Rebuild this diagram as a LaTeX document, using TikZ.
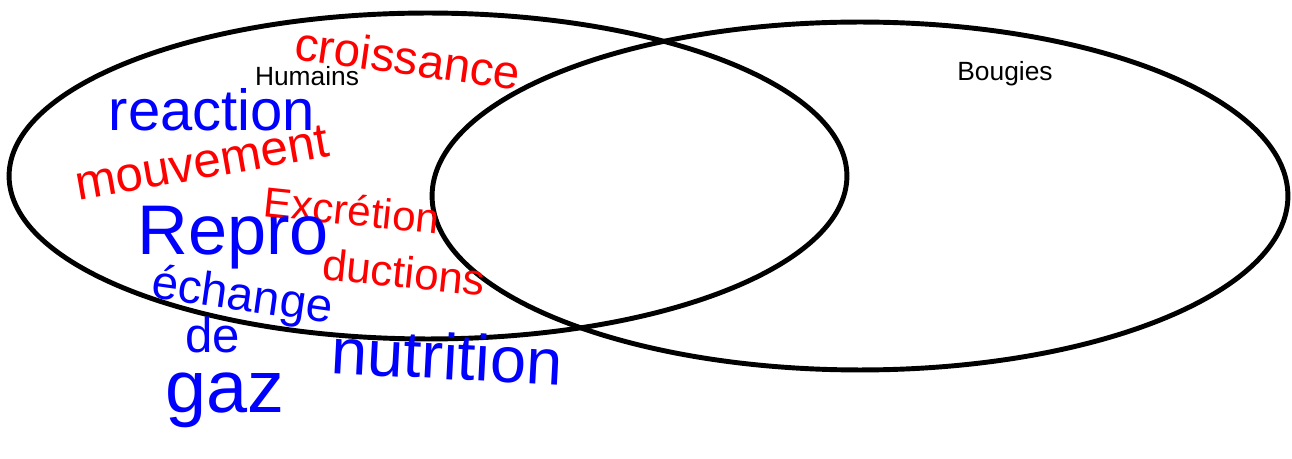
\documentclass[tikz,border=0pt]{standalone}
\usepackage{fontspec}
\setmainfont{Liberation Sans}
\usetikzlibrary{positioning}

\begin{document}
\begin{tikzpicture}[x=0.02cm, y=-0.02cm,
    ring/.style={black, line width=2.8pt},
    label/.style={font=\fontsize{15pt}{15pt}\selectfont},
    hred/.style={red, inner sep=0pt, font=\fontsize{#1}{#1}\selectfont},
    hblue/.style={blue, inner sep=0pt, font=\fontsize{#1}{#1}\selectfont}]
    \useasboundingbox (0,0) rectangle (1292,459);
    %--- ENSEMBLES ---
    \draw[ring] (428,176) ellipse [x radius=8.38cm, y radius=3.26cm];
    \draw[ring] (860,196) ellipse [x radius=8.56cm, y radius=3.48cm];
    \node[label] (humains) at (307,76) {Humains};
    \node[label] (bougies) at (1005,74) {Bougies};
    %--- MOTS ROUGES ---
    \node[hred=27pt, rotate=-8] (croissance) at (408,58) {croissance};
    \node[hred=28pt, rotate=10] (mouvement) at (202,163) {mouvement};
    \node[hred=24pt, rotate=-6] (excretion) at (352,210) {Excrétion};
    \node[hred=25pt, rotate=-6] (ductions) at (404,272) {ductions};
    %--- MOTS BLEUS ---
    \node[hblue=33pt] (reaction) at (212,110) {reaction};
    \node[hblue=40pt] (repro) at (233,238) {Repro};
    \node[hblue=27pt, rotate=-8] (echange) at (242,298) {échange};
    \node[hblue=28pt] (de) at (213,335) {de};
    \node[hblue=42pt] (gaz) at (225,400) {gaz};
    \node[hblue=37pt, rotate=-3] (nutrition) at (447,356) {nutrition};
\end{tikzpicture}
\end{document}
